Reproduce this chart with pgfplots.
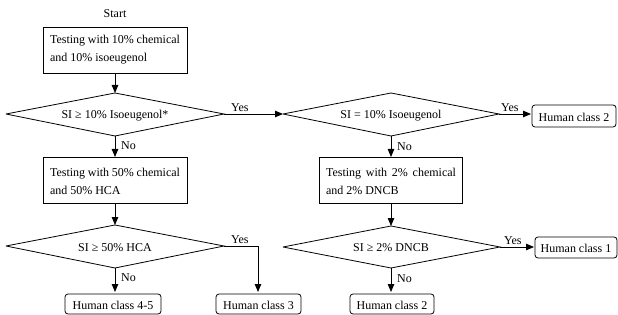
\documentclass[border=0pt]{standalone}
\usepackage{fontspec}
\setmainfont{Liberation Serif}
\usepackage{pgfplots}
\pgfplotsset{compat=1.18}
\usetikzlibrary{arrows.meta}
\begin{document}
\begin{tikzpicture}[font=\fontsize{12}{18}\selectfont,
  ln/.style={line width=0.8pt, black},
  ar/.style={line width=0.8pt, black, -{Triangle[length=8pt,width=6.5pt]}},
  rb/.style={line width=0.8pt, black, rounded corners=3pt}]
\begin{axis}[hide axis, scale only axis, width=618pt, height=315pt,
  xmin=0, xmax=618, ymin=0, ymax=315, y dir=reverse, clip=false]
% diamonds
\addplot[ln, mark=none, forget plot] coordinates {(6,114) (115,93) (224,114) (115,136) (6,114)};
\addplot[ln, mark=none, forget plot] coordinates {(283,114) (391,93) (499,114) (391,136) (283,114)};
\addplot[ln, mark=none, forget plot] coordinates {(6,246) (115,225) (224,246) (115,268) (6,246)};
\addplot[ln, mark=none, forget plot] coordinates {(283,247) (391,226) (500,247) (391,268) (283,247)};
% process boxes
\addplot[ln, mark=none, forget plot] coordinates {(43,27) (187,27) (187,73) (43,73) (43,27)};
\addplot[ln, mark=none, forget plot] coordinates {(43,157) (187,157) (187,203) (43,203) (43,157)};
\addplot[ln, mark=none, forget plot] coordinates {(319,157) (462,157) (462,203) (319,203) (319,157)};
% rounded result boxes
\draw[rb] (axis cs:532,105) rectangle (axis cs:616,127);
\draw[rb] (axis cs:535,237) rectangle (axis cs:617,258);
\draw[rb] (axis cs:65,294) rectangle (axis cs:161,314);
\draw[rb] (axis cs:216,294) rectangle (axis cs:301,314);
\draw[rb] (axis cs:350,294) rectangle (axis cs:434,314);
% arrows
\draw[ar] (axis cs:115,73) -- (axis cs:115,93);
\draw[ar] (axis cs:115,136) -- (axis cs:115,157);
\draw[ar] (axis cs:224,114) -- (axis cs:283,114);
\draw[ar] (axis cs:499,114) -- (axis cs:531,114);
\draw[ar] (axis cs:391,136) -- (axis cs:391,157);
\draw[ar] (axis cs:115,203) -- (axis cs:115,225);
\draw[ar] (axis cs:391,203) -- (axis cs:391,226);
\draw[ar] (axis cs:115,268) -- (axis cs:115,292);
\draw[ar] (axis cs:224,246) -- (axis cs:258,246) -- (axis cs:258,292);
\draw[ar] (axis cs:500,247) -- (axis cs:534,247);
\draw[ar] (axis cs:391,268) -- (axis cs:391,292);
% texts
\node at (axis cs:115,14) {Start};
\node[text width=130pt, align=justify, inner sep=0pt] at (axis cs:115,50) {Testing with 10\% chemical and 10\% isoeugenol};
\node[text width=130pt, align=justify, inner sep=0pt] at (axis cs:115,181) {Testing with 50\% chemical and 50\% HCA};
\node[text width=130pt, align=justify, inner sep=0pt] at (axis cs:391,181) {Testing with 2\% chemical and 2\% DNCB};
\node at (axis cs:115,116) {SI ≥ 10\% Isoeugenol*};
\node at (axis cs:391,116) {SI = 10\% Isoeugenol};
\node at (axis cs:115,248) {SI ≥ 50\% HCA};
\node at (axis cs:391,248) {SI ≥ 2\% DNCB};
\node[anchor=west, inner sep=0pt] at (axis cs:231,108) {Yes};
\node[anchor=west, inner sep=0pt] at (axis cs:501,108) {Yes};
\node[anchor=west, inner sep=0pt] at (axis cs:231,240) {Yes};
\node[anchor=west, inner sep=0pt] at (axis cs:504,241) {Yes};
\node[anchor=west, inner sep=0pt] at (axis cs:121,146) {No};
\node[anchor=west, inner sep=0pt] at (axis cs:397,147) {No};
\node[anchor=west, inner sep=0pt] at (axis cs:121,278) {No};
\node[anchor=west, inner sep=0pt] at (axis cs:397,279) {No};
\node at (axis cs:113,305) {Human class 4-5};
\node at (axis cs:258.5,305) {Human class 3};
\node at (axis cs:392,305) {Human class 2};
\node at (axis cs:574,117) {Human class 2};
\node at (axis cs:576,248) {Human class 1};
\end{axis}
\pgfresetboundingbox
\path[use as bounding box] (current axis.south west) rectangle (current axis.north east);
\end{tikzpicture}
\end{document}
